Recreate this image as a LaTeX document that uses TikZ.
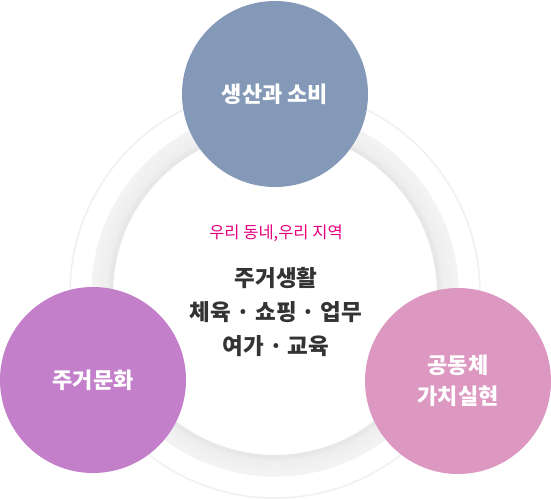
\documentclass[tikz,border=0pt]{standalone}
\usepackage{fontspec}
\newfontfamily\kr{Noto Sans CJK KR}
\definecolor{topc}{HTML}{8499B8}
\definecolor{leftc}{HTML}{C47FCB}
\definecolor{rightc}{HTML}{DD98C2}
\definecolor{pinkt}{HTML}{E6007E}
\definecolor{darkt}{HTML}{333333}
\begin{document}
\begin{tikzpicture}[x=1pt,y=-1pt,
  bubble/.style={circle,minimum size=186pt,inner sep=0pt,text=white,align=center,
    font=\kr\bfseries\fontsize{22}{31}\selectfont},
  subt/.style={text=pinkt,font=\kr\fontsize{16.5}{18}\selectfont,inner sep=0pt},
  maint/.style={text=darkt,align=center,font=\kr\bfseries\fontsize{22.5}{34}\selectfont,inner sep=0pt}]
\useasboundingbox[fill=white] (0,0) rectangle (551,499);
\coordinate (c) at (275,293);
% faint outer ring
\draw[color={rgb,255:red,240;green,240;blue,240},line width=1.5pt] (c) circle (205);
% thick ring with soft gradient
\foreach \r/\g in {182/243,179/242,176/241,173/240,170/239,167/237,165/234,163.5/231}{
  \draw[color={rgb,255:red,\g;green,\g;blue,\g},line width=3.2pt] (c) circle (\r);
}
\node[bubble,fill=topc] (top) at (275,94) {생산과 소비};
\node[bubble,fill=leftc] (left) at (93,380) {주거문화};
\node[bubble,fill=rightc] (right) at (458,381) {공동체\\가치실현};
\node[subt] (sub) at (276,233) {우리 동네,우리 지역};
\node[maint] (main) at (276,312) {주거생활\\체육 · 쇼핑 · 업무\\여가 · 교육};
\end{tikzpicture}
\end{document}
